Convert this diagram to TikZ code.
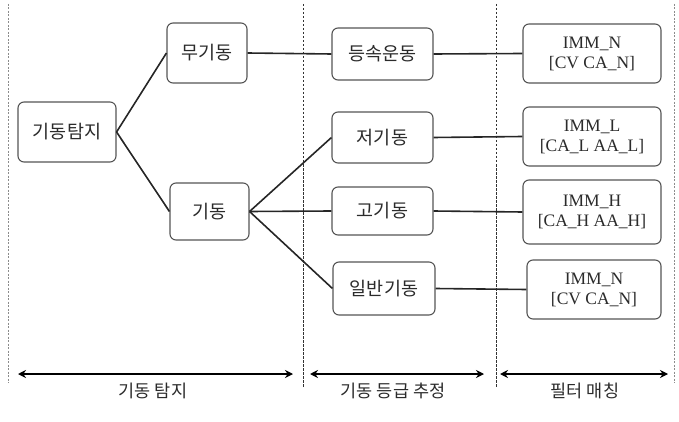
\documentclass[tikz,border=0pt]{standalone}
\usepackage{fontspec}
\setmainfont{Liberation Serif}
\newfontfamily\kr{Noto Sans CJK KR}
\usetikzlibrary{arrows.meta}
\definecolor{txt}{HTML}{2B2B2B}
\definecolor{edge}{HTML}{555555}
\tikzset{
  box/.style={draw=edge, line width=1.1pt, rounded corners=6pt, fill=white, inner sep=0pt, text=txt, align=center},
  krbox/.style={box, font=\kr\fontsize{18.5}{22}\selectfont},
  filt/.style={box, font=\fontsize{17.5}{20}\selectfont},
  conn/.style={draw=black!85, line width=1.6pt},
  sep/.style={draw=black!80, line width=1pt, dash pattern=on 2.5pt off 1.5pt},
  sepl/.style={draw=black!45, line width=1pt, dash pattern=on 2pt off 1.5pt},
  span/.style={draw=black, line width=2pt, {Stealth[length=8pt,width=8pt]}-{Stealth[length=8pt,width=8pt]}},
  lab/.style={text=txt, font=\kr\fontsize{17.5}{20}\selectfont}
}
\begin{document}
\begin{tikzpicture}[x=1pt,y=-1pt]
\useasboundingbox (0,0) rectangle (679,422);
% separators
\coordinate (v1a) at (8,4); \coordinate (v1b) at (8,383);
\coordinate (v2a) at (303,4); \coordinate (v2b) at (303,388);
\coordinate (v3a) at (496,4); \coordinate (v3b) at (496,388);
\coordinate (v4a) at (674,4); \coordinate (v4b) at (674,383);
\draw[sepl] (v1a) -- (v1b);
\draw[sep] (v2a) -- (v2b);
\draw[sep] (v3a) -- (v3b);
\draw[sepl] (v4a) -- (v4b);
% nodes
\node[krbox, minimum width=98pt, minimum height=60pt] (t) at (67,132) {기동탐지};
\node[krbox, minimum width=80pt, minimum height=60pt] (m) at (207,53) {무기동};
\node[krbox, minimum width=79pt, minimum height=57pt] (k) at (209.5,211.5) {기동};
\node[krbox, minimum width=101pt, minimum height=52pt] (s1) at (382.5,54) {등속운동};
\node[krbox, minimum width=101pt, minimum height=51pt] (s2) at (382.5,137.5) {저기동};
\node[krbox, minimum width=101pt, minimum height=48pt] (s3) at (382.5,211) {고기동};
\node[krbox, minimum width=102pt, minimum height=53pt] (s4) at (384,288.5) {일반기동};
\node[filt, minimum width=138pt, minimum height=59pt] (f1) at (592,53.5) {IMM\_N\\{}{[CV CA\_N]}};
\node[filt, minimum width=138pt, minimum height=59pt] (f2) at (592,136.5) {IMM\_L\\{}{[CA\_L AA\_L]}};
\node[filt, minimum width=138pt, minimum height=64pt] (f3) at (592,212) {IMM\_H\\{}{[CA\_H AA\_H]}};
\node[filt, minimum width=134pt, minimum height=59pt] (f4) at (594,289.5) {IMM\_N\\{}{[CV CA\_N]}};
% connectors
\draw[conn] (t.east) -- (m.west);
\draw[conn] (t.east) -- (k.west);
\draw[conn] (k.east) -- (s2.west);
\draw[conn] (k.east) -- (s3.west);
\draw[conn] (k.east) -- (s4.west);
\draw[conn] (m.east) -- (s1.west);
\draw[conn] (s1.east) -- (f1.west);
\draw[conn] (s2.east) -- (f2.west);
\draw[conn] (s3.east) -- (f3.west);
\draw[conn] (s4.east) -- (f4.west);
% spans
\coordinate (a1) at (18,374); \coordinate (b1) at (293,374);
\coordinate (a2) at (310,374); \coordinate (b2) at (484,374);
\coordinate (a3) at (500,374); \coordinate (b3) at (668,374);
\draw[span] (a1) -- (b1);
\draw[span] (a2) -- (b2);
\draw[span] (a3) -- (b3);
\node[lab] (l1) at (153,391) {기동 탐지};
\node[lab] (l2) at (393,391) {기동 등급 추정};
\node[lab] (l3) at (585,391) {필터 매칭};
\end{tikzpicture}
\end{document}
